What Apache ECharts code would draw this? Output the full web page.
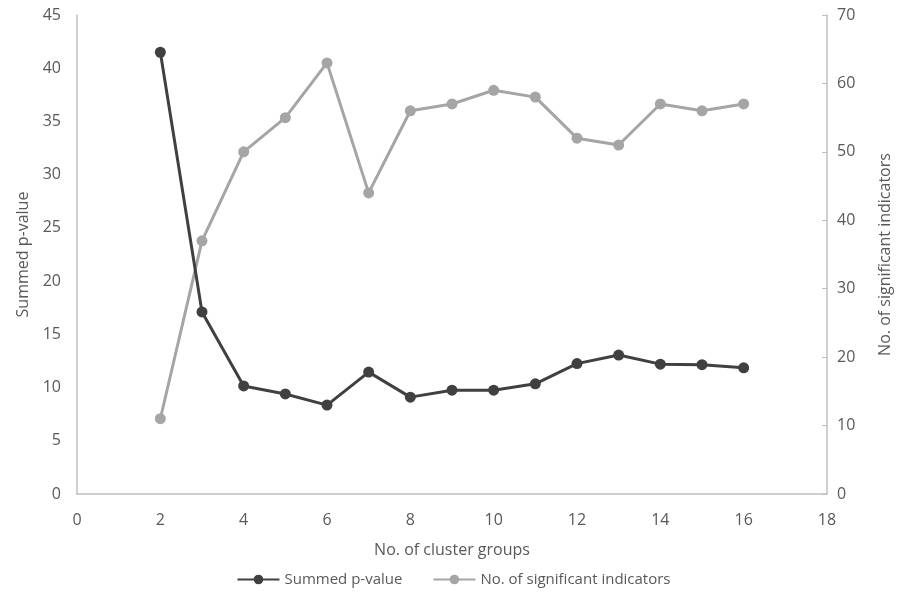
<!DOCTYPE html>
<html><head><meta charset="utf-8">
<script src="https://cdn.jsdelivr.net/npm/echarts@6/dist/echarts.min.js"></script>
<style>html,body{margin:0;padding:0;background:#fff}#c{width:907px;height:594px}</style>
</head><body><div id="c"></div>
<script>
var clusterGroups = [2,3,4,5,6,7,8,9,10,11,12,13,14,15,16];
var summedP = [41.5,17.1,10.15,9.4,8.35,11.45,9.1,9.75,9.75,10.35,12.25,13.05,12.2,12.15,11.85];
var sigIndicators = [11,37,50,55,63,44,56,57,59,58,52,51,57,56,57];
var seriesNames = ['Summed p-value','No. of significant indicators'];
var txt = '#595959', ff = '"Open Sans", sans-serif';
function pairs(ys){return clusterGroups.map(function(x,i){return [x,ys[i]];});}
var chart = echarts.init(document.getElementById('c'));
chart.setOption({
  animation:false,
  textStyle:{fontFamily:ff,color:txt},
  grid:{left:77,right:80,top:15,bottom:100,containLabel:false},
  legend:{bottom:2,left:'center',itemWidth:42,itemHeight:12,itemGap:30,
    textStyle:{fontFamily:ff,fontSize:15,color:txt},data:seriesNames},
  xAxis:{type:'value',min:0,max:18,interval:2,name:'No. of cluster groups',nameLocation:'middle',nameGap:48,
    nameTextStyle:{fontFamily:ff,fontSize:16,color:txt},
    axisLine:{lineStyle:{color:'#BFBFBF',width:1.5}},axisTick:{show:false},splitLine:{show:false},
    axisLabel:{fontFamily:ff,fontSize:16,color:txt,margin:18}},
  yAxis:[{type:'value',min:0,max:45,interval:5,name:'Summed p-value',nameLocation:'middle',nameGap:46,
    nameTextStyle:{fontFamily:ff,fontSize:16,color:txt},
    axisLine:{show:true,lineStyle:{color:'#BFBFBF',width:1.5}},axisTick:{show:false},splitLine:{show:false},
    axisLabel:{fontFamily:ff,fontSize:16,color:txt,margin:16}},
   {type:'value',min:0,max:70,interval:10,position:'right',name:'No. of significant indicators',nameLocation:'middle',nameGap:50,
    nameTextStyle:{fontFamily:ff,fontSize:16,color:txt},
    axisLine:{show:true,lineStyle:{color:'#BFBFBF',width:1.5}},axisTick:{show:true,inside:true,length:5,lineStyle:{color:'#BFBFBF'}},splitLine:{show:false},
    axisLabel:{fontFamily:ff,fontSize:16,color:txt,margin:10}}],
  series:[
    {name:seriesNames[1],type:'line',yAxisIndex:1,data:pairs(sigIndicators),symbol:'circle',symbolSize:11,
      lineStyle:{color:'#A5A5A5',width:3},itemStyle:{color:'#A5A5A5'}},
    {name:seriesNames[0],type:'line',yAxisIndex:0,data:pairs(summedP),symbol:'circle',symbolSize:11,
      lineStyle:{color:'#404040',width:3},itemStyle:{color:'#404040'},z:3}
  ]
});
</script></body></html>
